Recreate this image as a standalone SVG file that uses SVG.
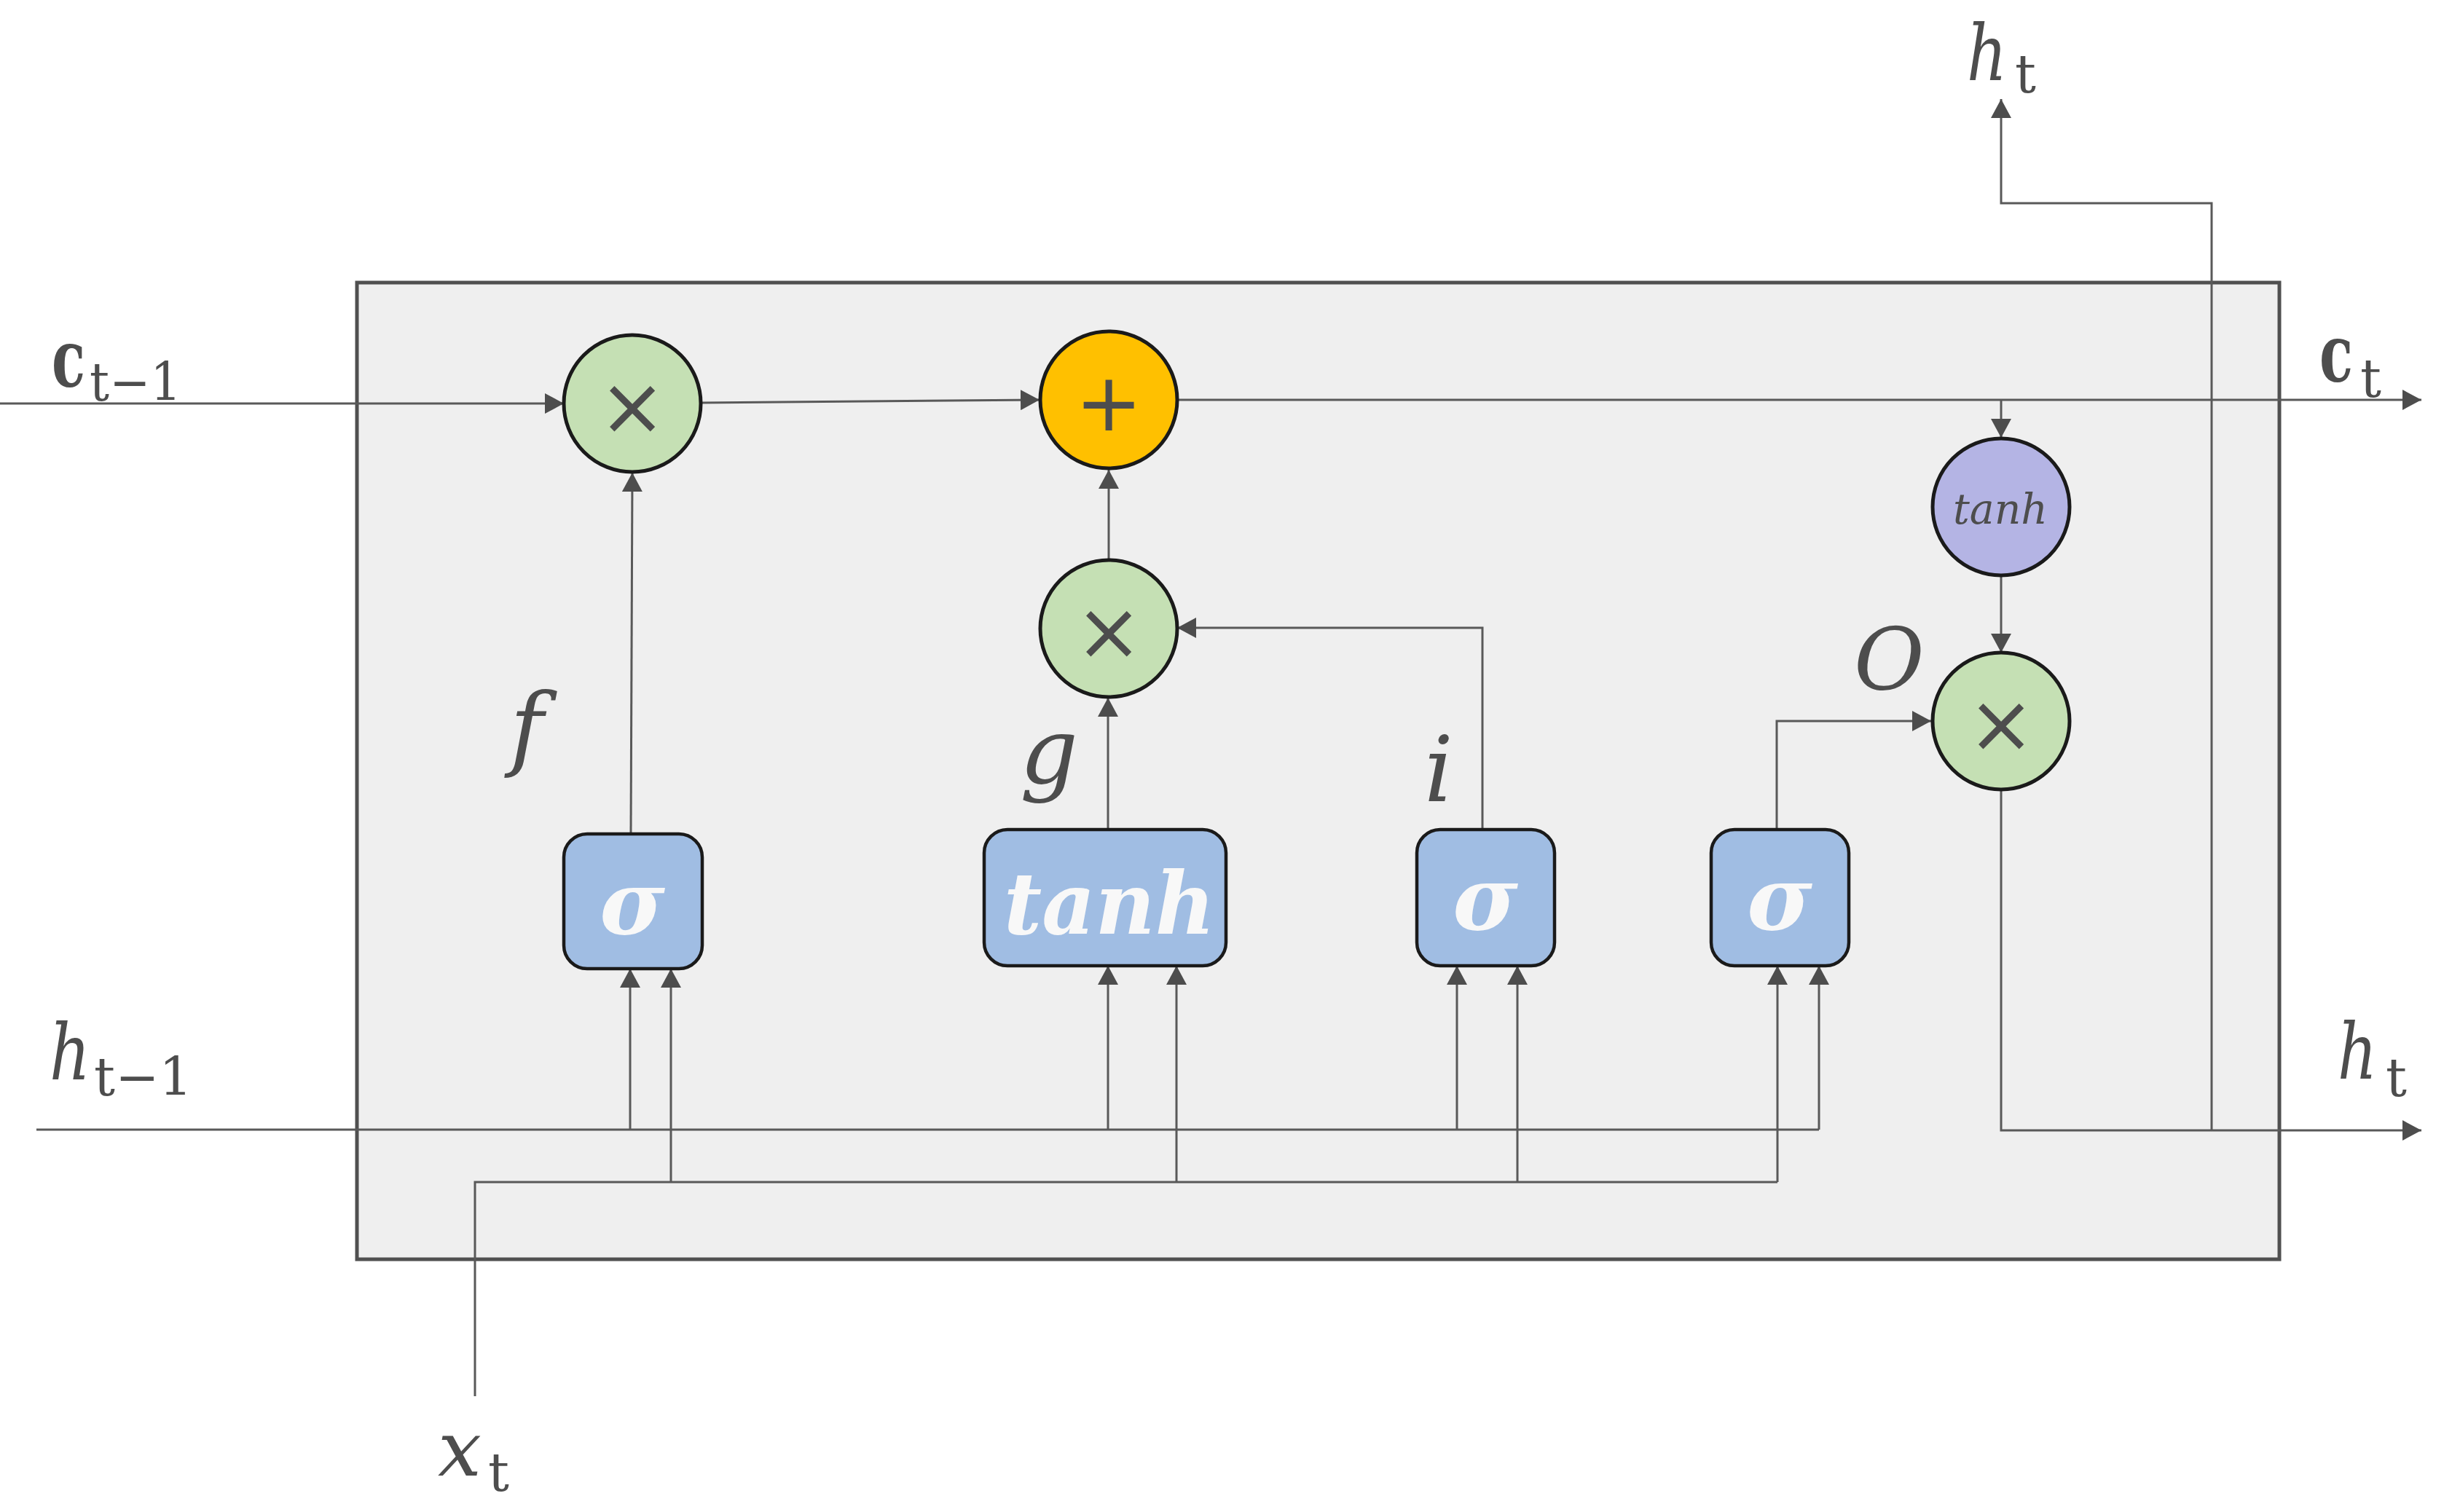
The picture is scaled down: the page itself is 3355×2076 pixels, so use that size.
<svg xmlns="http://www.w3.org/2000/svg" width="3355" height="2076" viewBox="0 0 3355 2076">
<style>
.ln{fill:none;stroke:#595959;stroke-width:3}
.circ{stroke:#1a1a1a;stroke-width:5}
.gate{fill:#a0bde3;stroke:#1a1a1a;stroke-width:4.5}
.lbl{fill:#4d4d4d;font-family:"DejaVu Serif","Liberation Serif",serif}
.it{font-style:italic}
.bd{font-weight:bold}
.sub{font-size:72px;font-style:normal;font-weight:normal}
.op{fill:#4d4d4d;font-family:"DejaVu Sans","Liberation Sans",sans-serif;font-size:110px;text-anchor:middle}
.gt{fill:#f8f8f8;font-family:"DejaVu Serif","Liberation Serif",serif;font-weight:bold;font-style:italic;text-anchor:middle}
</style>
<defs>
<marker id="arr" markerUnits="userSpaceOnUse" markerWidth="26" markerHeight="28" viewBox="0 0 26 28" refX="26" refY="14" orient="auto">
<path d="M0,0 L26,14 L0,28 z" fill="#4d4d4d"/>
</marker>
</defs>
<rect width="3355" height="2076" fill="#ffffff"/>
<g id="cell">
<rect x="490" y="388" width="2639" height="1341" fill="#efefef" stroke="#505050" stroke-width="5"/>
</g>
<g id="connectors">
<path class="ln" d="M0,554 L774,554" marker-end="url(#arr)"/>
<path class="ln" d="M963,553 L1427,549" marker-end="url(#arr)"/>
<path class="ln" d="M1616,549 L3324,549" marker-end="url(#arr)"/>
<path class="ln" d="M2747,549 L2747,601" marker-end="url(#arr)"/>
<path class="ln" d="M2747,791 L2747,896" marker-end="url(#arr)"/>
<path class="ln" d="M2747,1084 L2747,1552 L3324,1552" marker-end="url(#arr)"/>
<path class="ln" d="M3036,1552 L3036,279 L2747,279 L2747,136" marker-end="url(#arr)"/>
<path class="ln" d="M866,1145 L868,649" marker-end="url(#arr)"/>
<path class="ln" d="M1522,767 L1522,645" marker-end="url(#arr)"/>
<path class="ln" d="M1521,1139 L1521,958" marker-end="url(#arr)"/>
<path class="ln" d="M2035,1139 L2035,862 L1616,862" marker-end="url(#arr)"/>
<path class="ln" d="M2439,1139 L2439,990 L2651,990" marker-end="url(#arr)"/>
<path class="ln" d="M50,1551 L2497,1551"/>
<path class="ln" d="M652,1917 L652,1623 L2440,1623"/>
<path class="ln" d="M865,1551 L865,1330" marker-end="url(#arr)"/>
<path class="ln" d="M921,1623 L921,1330" marker-end="url(#arr)"/>
<path class="ln" d="M1521,1551 L1521,1326" marker-end="url(#arr)"/>
<path class="ln" d="M1615,1623 L1615,1326" marker-end="url(#arr)"/>
<path class="ln" d="M2000,1551 L2000,1326" marker-end="url(#arr)"/>
<path class="ln" d="M2083,1623 L2083,1326" marker-end="url(#arr)"/>
<path class="ln" d="M2440,1623 L2440,1326" marker-end="url(#arr)"/>
<path class="ln" d="M2497,1551 L2497,1326" marker-end="url(#arr)"/>
</g>
<g id="forget-mult">
<circle class="circ" cx="868" cy="554" r="94" fill="#c5e0b4"/>
<text class="op" x="868" y="596">×</text>
</g>
<g id="add">
<circle class="circ" cx="1522" cy="549" r="94" fill="#ffc000"/>
<text class="op" x="1522" y="591">+</text>
</g>
<g id="input-mult">
<circle class="circ" cx="1522" cy="863" r="94" fill="#c5e0b4"/>
<text class="op" x="1522" y="905">×</text>
</g>
<g id="tanh-out">
<circle class="circ" cx="2747" cy="696" r="94" fill="#b4b4e4"/>
<text class="lbl it" x="2746" y="719" font-size="58" text-anchor="middle" textLength="130" lengthAdjust="spacingAndGlyphs">tanh</text>
</g>
<g id="output-mult">
<circle class="circ" cx="2747" cy="990" r="94" fill="#c5e0b4"/>
<text class="op" x="2747" y="1032">×</text>
</g>
<g id="sigma-f">
<rect class="gate" x="774" y="1145" width="190" height="185" rx="32"/>
<text class="gt" x="868" y="1282" font-size="122">σ</text>
</g>
<g id="tanh-g">
<rect class="gate" x="1351" y="1139" width="332" height="187" rx="32"/>
<text class="gt" x="1523" y="1282" font-size="118" textLength="290" lengthAdjust="spacingAndGlyphs">tanh</text>
</g>
<g id="sigma-i">
<rect class="gate" x="1945" y="1139" width="189" height="187" rx="32"/>
<text class="gt" x="2039" y="1276" font-size="122">σ</text>
</g>
<g id="sigma-o">
<rect class="gate" x="2349" y="1139" width="189" height="187" rx="32"/>
<text class="gt" x="2443" y="1276" font-size="122">σ</text>
</g>
<g id="labels">
<text class="lbl bd" font-size="108" transform="translate(71 530) scale(0.7 1)">c</text>
<text class="lbl sub" x="123" y="550" textLength="126" lengthAdjust="spacingAndGlyphs">t−1</text>
<text class="lbl bd" font-size="108" transform="translate(3184 523) scale(0.7 1)">c</text>
<text class="lbl sub" x="3240" y="545">t</text>
<text class="lbl" x="2700" y="110"><tspan class="it" font-size="106" textLength="55" lengthAdjust="spacingAndGlyphs">h</tspan><tspan class="sub" x="2766" y="127">t</tspan></text>
<text class="lbl" x="68" y="1482"><tspan class="it" font-size="106" textLength="56" lengthAdjust="spacingAndGlyphs">h</tspan><tspan class="sub" x="129" y="1504">t−1</tspan></text>
<text class="lbl" x="3209" y="1481"><tspan class="it" font-size="106" textLength="54" lengthAdjust="spacingAndGlyphs">h</tspan><tspan class="sub" x="3275" y="1505">t</tspan></text>
<text class="lbl" x="601" y="2026"><tspan class="it" font-size="104" textLength="60" lengthAdjust="spacingAndGlyphs">x</tspan><tspan class="sub" x="670" y="2047">t</tspan></text>
<text class="lbl it" x="700" y="1042" font-size="125">f</text>
<text class="lbl it" x="1400" y="1075" font-size="125">g</text>
<text class="lbl it" x="1955" y="1100" font-size="125">i</text>
<text class="lbl it" x="2545" y="946" font-size="118">O</text>
</g>
</svg>
